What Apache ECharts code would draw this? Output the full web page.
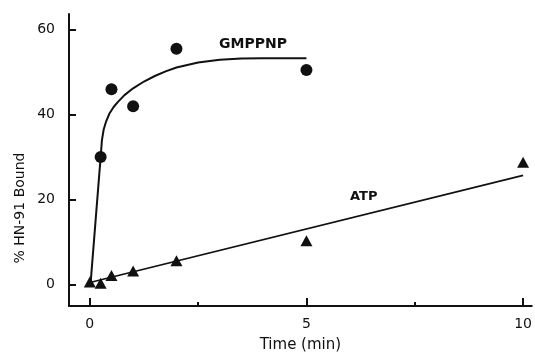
<!DOCTYPE html>
<html>
<head>
<meta charset="utf-8">
<script src="https://cdn.jsdelivr.net/npm/echarts@6/dist/echarts.min.js"></script>
<style>
  html, body { margin: 0; padding: 0; background: #fff; }
  #chart { width: 535px; height: 358px; }
</style>
</head>
<body>
<div id="chart"></div>
<script>
// measured points (time in min, % bound)
const gmppnpPoints = [[0.25, 30], [0.5, 46], [1, 42], [2, 55.5], [5, 50.5]]
const atpPoints = [[0, 0.6], [0.25, 0.3], [0.5, 2.1], [1, 3.2], [2, 5.6], [5, 10.3], [10, 28.8]]

// fitted curves
const gmppnpCurve = [[0.02, 0.5], [0.25, 30], [0.28, 34], [0.32, 36.5], [0.38, 38.5], [0.45, 40.2],
  [0.55, 41.8], [0.65, 43], [0.8, 44.6], [1, 46.2], [1.25, 47.8], [1.5, 49.1], [1.75, 50.2],
  [2, 51.1], [2.5, 52.3], [3, 52.9], [3.5, 53.2], [4, 53.3], [5, 53.3]]
const atpCurve = [[0.05, 0.6], [10, 25.7]]

const yTicks = [0, 20, 40, 60]
const xTicks = [0, 5, 10]
const xMinorTicks = [2.5, 7.5]

const font = "DejaVu Sans"
const ink = "#111"

const chart = echarts.init(document.getElementById("chart"), null, { renderer: "canvas" })

chart.setOption({
  animation: false,
  grid: { left: 69, right: 2, top: 14, bottom: 45 },
  xAxis: [
    {
      type: "value",
      min: -0.48,
      max: 10.2,
      name: "Time (min)",
      nameLocation: "middle",
      nameGap: 32,
      nameTextStyle: { fontFamily: font, fontSize: 15, color: ink },
      axisLine: { onZero: false, lineStyle: { color: ink, width: 2 } },
      axisTick: { customValues: xTicks, inside: true, length: 8, lineStyle: { color: ink, width: 2 } },
      axisLabel: { customValues: xTicks, fontFamily: font, fontSize: 14, color: ink, margin: 11 },
      splitLine: { show: false },
    },
    {
      type: "value",
      min: -0.48,
      max: 10.2,
      position: "bottom",
      axisLine: { show: false, onZero: false },
      axisTick: { customValues: xMinorTicks, inside: true, length: 4, lineStyle: { color: ink, width: 2 } },
      axisLabel: { show: false },
      splitLine: { show: false },
    },
  ],
  yAxis: {
    type: "value",
    min: -5.06,
    max: 63.7,
    axisLine: { show: true, onZero: false, lineStyle: { color: ink, width: 2 } },
    axisTick: { show: true, customValues: yTicks, inside: true, length: 7, lineStyle: { color: ink, width: 2 } },
    axisLabel: { customValues: yTicks, fontFamily: font, fontSize: 14, color: ink, margin: 14 },
    splitLine: { show: false },
  },
  graphic: [
    {
      type: "text",
      left: 219,
      top: 37,
      style: { text: "GMPPNP", font: "bold 14px " + font, fill: ink },
    },
    {
      type: "text",
      left: 350,
      top: 190,
      style: { text: "ATP", font: "bold 13px " + font, fill: ink },
    },
    {
      type: "text",
      x: 20,
      y: 208,
      rotation: Math.PI / 2,
      style: {
        text: "% HN-91 Bound",
        font: "14px " + font,
        fill: ink,
        align: "center",
        verticalAlign: "middle",
      },
    },
  ],
  series: [
    {
      name: "GMPPNP fit",
      type: "line",
      data: gmppnpCurve,
      showSymbol: false,
      lineStyle: { color: ink, width: 2 },
    },
    {
      name: "ATP fit",
      type: "line",
      data: atpCurve,
      showSymbol: false,
      lineStyle: { color: ink, width: 1.6 },
    },
    {
      name: "GMPPNP",
      type: "scatter",
      data: gmppnpPoints,
      symbol: "circle",
      symbolSize: 12,
      itemStyle: { color: ink, opacity: 1 },
    },
    {
      name: "ATP",
      type: "scatter",
      data: atpPoints,
      symbol: "triangle",
      symbolSize: [12, 11],
      itemStyle: { color: ink, opacity: 1 },
    },
  ],
})
</script>
</body>
</html>
